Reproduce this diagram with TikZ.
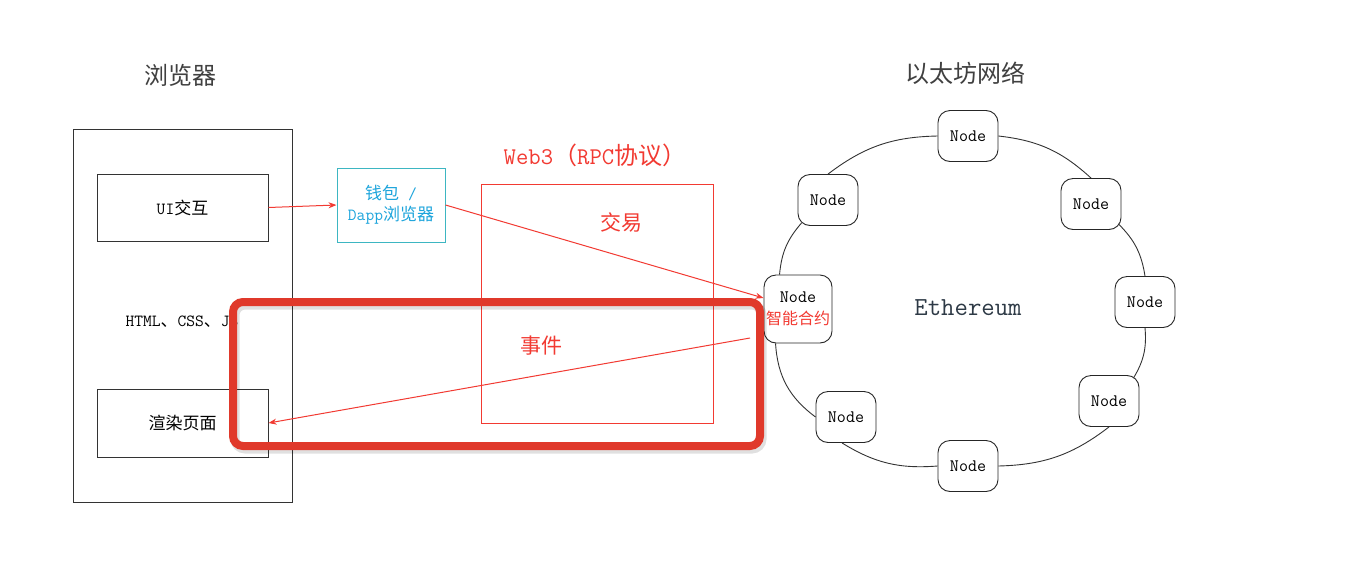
\documentclass[tikz,border=0pt]{standalone}
\usepackage{fontspec}
\newfontfamily\cjk{Noto Sans CJK SC}
\usetikzlibrary{arrows.meta,calc}
\definecolor{redline}{HTML}{F23A32}
\definecolor{bigred}{HTML}{E0392B}
\definecolor{cyanb}{HTML}{3DB6C2}
\definecolor{cyant}{HTML}{1EA5DC}
\definecolor{titlegray}{HTML}{404040}
\definecolor{ethtext}{HTML}{2E3A46}
\begin{document}
\begin{tikzpicture}[x=1pt,y=-1pt,
  box/.style={draw=black!80, line width=1pt, inner sep=0pt, minimum width=171pt, minimum height=67pt, font=\fontsize{17}{20}\selectfont},
  ethnode/.style={draw=black!85, line width=0.9pt, rounded corners=12pt, fill=white, minimum width=60pt, minimum height=51pt, inner sep=0pt, font=\ttfamily\fontsize{17.5}{20}\selectfont},
  ring/.style={draw=black!80, line width=0.9pt},
  redarrow/.style={draw=redline, line width=1pt, -{Stealth[length=8pt,width=6pt]}},
  redtext/.style={text=redline, font=\cjk\fontsize{21}{24}\selectfont},
  title/.style={text=titlegray, font=\cjk\fontsize{24}{28}\selectfont}
]
\useasboundingbox (0,0) rectangle (1354,568);
\fill[white] (0,0) rectangle (1354,568);

% Browser
\node[title] (btitle) at (180,75) {浏览器};
\node[draw=black!80, line width=1pt, minimum width=219pt, minimum height=373pt, inner sep=0pt] (browser) at (182.5,315.5) {};
\node[box] (ui) at (182.5,207.5) {{\ttfamily UI}{\cjk 交互}};
\node[font=\fontsize{17}{20}\selectfont] (html) at (182,322) {{\ttfamily HTML}{\cjk 、}{\ttfamily CSS}{\cjk 、}{\ttfamily JS}};
\node[box, minimum height=68pt] (render) at (182.5,423) {{\cjk 渲染页面}};

% Wallet
\node[draw=cyanb, line width=1pt, minimum width=108pt, minimum height=74pt, inner sep=0pt, align=center, text=cyant, font=\fontsize{17}{21}\selectfont] (wallet) at (391,205) {{\cjk 钱包}{\ttfamily\ /}\\{\ttfamily Dapp}{\cjk 浏览器}};

% Web3
\node[text=redline, font=\fontsize{24}{28}\selectfont] (web3label) at (595,155) {{\ttfamily Web3}{\cjk （}{\ttfamily RPC}{\cjk 协议）}};
\node[draw=redline, line width=1pt, minimum width=232pt, minimum height=239pt, inner sep=0pt] (web3) at (597,303.5) {};
\node[redtext] (tx) at (621,222) {交易};
\node[redtext] (ev) at (541,346) {事件};

% Ethereum network
\node[title] (etitle) at (965,73) {以太坊网络};
\node[text=ethtext, font=\ttfamily\fontsize{26}{28}\selectfont] (eth) at (968,308) {Ethereum};
\node[ethnode] (n1) at (968,136) {Node};
\node[ethnode] (n2) at (1091,204) {Node};
\node[ethnode] (n3) at (1145,302) {Node};
\node[ethnode] (n4) at (1109,401) {Node};
\node[ethnode] (n5) at (968,466) {Node};
\node[ethnode] (n6) at (846,417) {Node};
\node[ethnode, minimum width=68pt, minimum height=68pt, align=center] (contract) at (798,309) {Node\\[2pt]{\cjk\color{redline}\fontsize{16}{19}\selectfont 智能合约}};
\node[ethnode] (n8) at (828,200) {Node};

\draw[ring] (n1.east) to[bend left=18] (n2.north);
\draw[ring] ($(n2.south east)+(-3,-6)$) to[bend left=18] (n3.north);
\draw[ring] (n3.south) to[bend left=18] ($(n4.north east)+(-6,3)$);
\draw[ring] (n4.south) to[bend left=18] (n5.east);
\draw[ring] (n5.west) to[bend left=18] ($(n6.south)+(-4,0)$);
\draw[ring] (n6.west) to[bend left=25] ($(contract.south west)+(12,0)$);
\draw[ring] ($(contract.north west)+(16,0)$) to[bend left=18] ($(n8.south west)+(4,-3)$);
\draw[ring] (n8.north) to[bend left=18] (n1.west);

% Arrows
\draw[redarrow] (ui.east) -- (wallet.west);
\draw[redarrow] (wallet.east) -- ($(contract.west)+(0,-11)$);
\coordinate (evstart) at (750,338);
\draw[redarrow] (evstart) -- (render.east);

% Highlight box
\draw[black, opacity=0.12, line width=9pt, rounded corners=10pt] (235,305) rectangle (762,449);
\node[draw=bigred, line width=8pt, rounded corners=10pt, minimum width=527pt, minimum height=144pt, inner sep=0pt] (events) at (496.5,374) {};
\end{tikzpicture}
\end{document}
